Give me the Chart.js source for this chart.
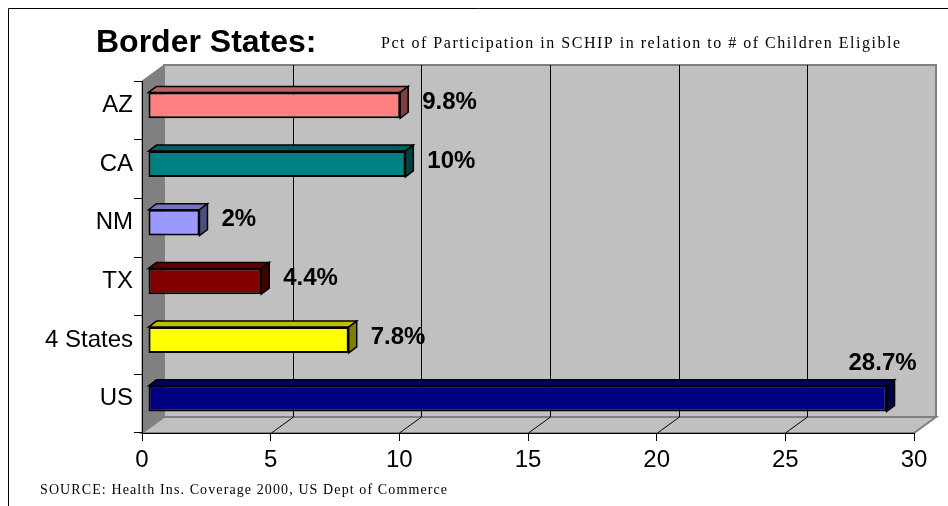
<!DOCTYPE html>
<html>
<head>
<meta charset="utf-8">
<script src="https://cdn.jsdelivr.net/npm/chart.js@4/dist/chart.umd.min.js"></script>
<style>
  html, body { margin: 0; padding: 0; background: #fff; }
  canvas { display: block; }
</style>
</head>
<body>
<canvas id="schipChart" width="948" height="506"></canvas>
<script>
// values
const categories = ['AZ', 'CA', 'NM', 'TX', '4 States', 'US'];
const participation = [9.8, 10, 2, 4.4, 7.8, 28.7];
const valueLabels = ['9.8%', '10%', '2%', '4.4%', '7.8%', '28.7%'];
const barColors = ['#FF8080', '#008080', '#9999FF', '#800000', '#FFFF00', '#000080'];
const axisMin = 0;
const axisMax = 30;
const axisStep = 5;

const titleText = 'Border States:';
const subtitleText = 'Pct of Participation in SCHIP in relation to # of Children Eligible';
const sourceText = 'SOURCE: Health Ins. Coverage 2000, US Dept of Commerce';

const SANS = "'Liberation Sans', Arial, sans-serif";
const SERIF = "'Liberation Serif', 'Times New Roman', serif";

// 3d look: wall depth and bar depth
const WALL = { dx: 22, dy: -16 };
const BAR_SHIFT = { dx: 6, dy: -5 };
const BAR_DEPTH = { dx: 8, dy: -6 };

function shade(hex, f) {
    const n = parseInt(hex.slice(1), 16);
    const r = Math.round(((n >> 16) & 255) * f);
    const g = Math.round(((n >> 8) & 255) * f);
    const b = Math.round((n & 255) * f);
    return `rgb(${r},${g},${b})`;
}

function poly(ctx, pts, fill, stroke, lw) {
    ctx.beginPath();
    ctx.moveTo(pts[0][0], pts[0][1]);
    for (let i = 1; i < pts.length; i++) ctx.lineTo(pts[i][0], pts[i][1]);
    ctx.closePath();
    if (fill) { ctx.fillStyle = fill; ctx.fill(); }
    if (stroke) { ctx.strokeStyle = stroke; ctx.lineWidth = lw || 1; ctx.stroke(); }
}

function spacedText(ctx, text, x, y, targetWidth) {
    ctx.letterSpacing = '0px';
    const w = ctx.measureText(text).width;
    if (targetWidth && 'letterSpacing' in ctx && w < targetWidth) {
        ctx.letterSpacing = ((targetWidth - w) / (text.length - 1)) + 'px';
    }
    ctx.fillText(text, x, y);
    ctx.letterSpacing = '0px';
}

// frame, walls, floor and back gridlines
const wallsPlugin = {
    id: 'walls',
    beforeDraw(chart) {
        const { ctx, chartArea: a, scales } = chart;
        const L = a.left, R = a.right, T = a.top, B = a.bottom;
        const dx = WALL.dx, dy = WALL.dy;
        ctx.save();
        ctx.fillStyle = '#fff';
        ctx.fillRect(0, 0, chart.width, chart.height);

        // outer frame (runs off right and bottom)
        ctx.strokeStyle = '#000';
        ctx.lineWidth = 1;
        ctx.beginPath();
        ctx.moveTo(8.5, chart.height);
        ctx.lineTo(8.5, 8.5);
        ctx.lineTo(chart.width, 8.5);
        ctx.stroke();

        // back wall
        poly(ctx, [[L + dx, T + dy], [R + dx, T + dy], [R + dx, B + dy], [L + dx, B + dy]], '#C0C0C0', '#808080', 2);
        // left wall
        poly(ctx, [[L, T], [L + dx, T + dy], [L + dx, B + dy], [L, B]], '#808080', '#808080', 1);
        // floor
        poly(ctx, [[L, B], [L + dx, B + dy], [R + dx, B + dy], [R, B]], '#C0C0C0', '#808080', 2);

        // gridlines on back wall + floor
        const xs = scales.x;
        ctx.strokeStyle = '#000';
        ctx.lineWidth = 1;
        for (let v = axisMin + axisStep; v < axisMax; v += axisStep) {
            const px = Math.round(xs.getPixelForValue(v)) + 0.5;
            ctx.beginPath();
            ctx.moveTo(px + dx, T + dy);
            ctx.lineTo(px + dx, B + dy);
            ctx.moveTo(px, B);
            ctx.lineTo(px + dx, B + dy);
            ctx.stroke();
        }
        ctx.restore();
    },
    beforeDatasetsDraw(chart) {
        const { ctx } = chart;
        ctx.save();
        ctx.translate(BAR_SHIFT.dx, BAR_SHIFT.dy);
        // top and side faces of each bar
        const meta = chart.getDatasetMeta(0);
        meta.data.forEach((bar, i) => {
            const h = bar.height;
            const x0 = bar.base, x1 = bar.x;
            const y0 = bar.y - h / 2, y1 = bar.y + h / 2;
            const ddx = BAR_DEPTH.dx, ddy = BAR_DEPTH.dy;
            poly(ctx, [[x0, y0], [x0 + ddx, y0 + ddy], [x1 + ddx, y0 + ddy], [x1, y0]], shade(barColors[i], 0.75), '#000', 1.5);
            poly(ctx, [[x1, y0], [x1 + ddx, y0 + ddy], [x1 + ddx, y1 + ddy], [x1, y1]], shade(barColors[i], 0.5), '#000', 1.5);
        });
    },
    afterDatasetsDraw(chart) {
        const { ctx, chartArea: a } = chart;
        ctx.restore();
        // value labels
        ctx.save();
        ctx.font = 'bold 24px ' + SANS;
        ctx.fillStyle = '#000';
        ctx.textBaseline = 'middle';
        const meta = chart.getDatasetMeta(0);
        meta.data.forEach((bar, i) => {
            const label = valueLabels[i];
            const w = ctx.measureText(label).width;
            const endX = bar.x + BAR_SHIFT.dx;
            const midY = bar.y + BAR_SHIFT.dy;
            if (endX + 22 + w > a.right + WALL.dx) {
                ctx.textAlign = 'center';
                ctx.fillText(label, endX - 4, midY - bar.height / 2 - 22);
            } else {
                ctx.textAlign = 'left';
                ctx.fillText(label, endX + 22, midY - 3);
            }
        });
        ctx.restore();
    },
    afterDraw(chart) {
        const { ctx } = chart;
        ctx.save();
        ctx.fillStyle = '#000';
        ctx.textBaseline = 'middle';
        ctx.textAlign = 'left';
        ctx.font = 'bold 32px ' + SANS;
        ctx.fillText(titleText, 96, 43);
        ctx.font = '16px ' + SERIF;
        spacedText(ctx, subtitleText, 381, 44, 519);
        ctx.font = '14px ' + SERIF;
        spacedText(ctx, sourceText, 40, 490, 407);
        ctx.restore();
    }
};

new Chart(document.getElementById('schipChart'), {
    type: 'bar',
    data: {
        labels: categories,
        datasets: [{
            data: participation,
            backgroundColor: barColors,
            borderColor: '#000',
            borderWidth: 2,
            borderSkipped: false,
            barPercentage: 0.44,
            categoryPercentage: 1
        }]
    },
    options: {
        indexAxis: 'y',
        responsive: false,
        devicePixelRatio: 1,
        animation: false,
        layout: { padding: { left: 0, top: 81, right: 34, bottom: 0 } },
        plugins: {
            legend: { display: false },
            tooltip: { enabled: false },
            title: { display: false }
        },
        scales: {
            x: {
                min: axisMin,
                max: axisMax,
                ticks: { stepSize: axisStep, color: '#000', font: { family: SANS, size: 24 }, padding: 5, maxRotation: 0 },
                grid: { drawOnChartArea: false, drawTicks: true, tickLength: 8, color: '#000' },
                border: { display: true, color: '#000', width: 1 },
                afterFit: (s) => { s.height = 73; }
            },
            y: {
                ticks: { color: '#000', font: { family: SANS, size: 24 }, padding: 1, labelOffset: -5 },
                grid: { drawOnChartArea: false, drawTicks: true, tickLength: 8, color: '#000', offset: true },
                border: { display: true, color: '#000', width: 1 },
                afterFit: (s) => { s.width = 142; }
            }
        }
    },
    plugins: [wallsPlugin]
});
</script>
</body>
</html>
